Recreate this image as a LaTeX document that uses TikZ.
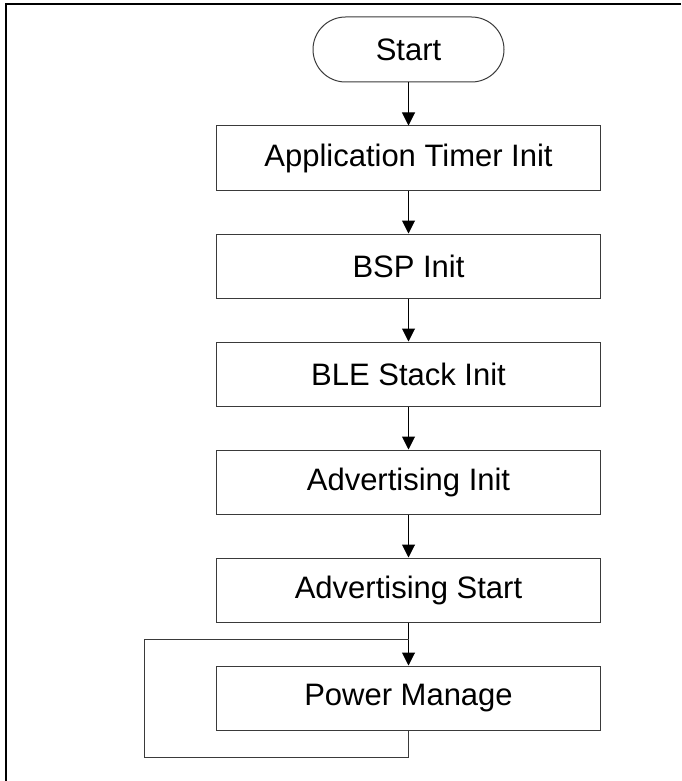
\documentclass[tikz,border=0pt]{standalone}
\usepackage{fontspec}
\setmainfont{Liberation Sans}
\usepackage{tikz}
\usetikzlibrary{arrows.meta,positioning}
\definecolor{boxline}{HTML}{3A3A3A}

\begin{document}
\begin{tikzpicture}[
  x=1pt, y=1pt,
  >={Triangle[length=13pt,width=13pt]},
  node distance=43pt,
  stepbox/.style={
    draw=boxline,
    line width=1pt,
    minimum width=384pt,
    minimum height=64pt,
    inner sep=0pt,
    font=\fontsize{31}{37}\selectfont
  },
  terminal/.style={
    stepbox,
    minimum width=191pt,
    minimum height=65pt,
    rounded corners=32.5pt
  },
  flow/.style={->, line width=1pt, black}
]
  \useasboundingbox (0,0) rectangle (681,-781);

  % Frame (cut at the right and bottom)
  \draw[line width=2pt] (681,-4) -- (6,-4) -- (6,-781);

  % --- Main flow ---
  \node[terminal] (start) at (408.5,-49.5) {Start};
  \node[stepbox, below=of start] (timer) {Application Timer Init};
  \node[stepbox, below=of timer] (bsp) {BSP Init};
  \node[stepbox, below=of bsp] (stack) {BLE Stack Init};
  \node[stepbox, below=of stack] (advinit) {Advertising Init};
  \node[stepbox, below=of advinit] (advstart) {Advertising Start};
  \node[stepbox, below=of advstart] (power) {Power Manage};

  % Loop corners
  \coordinate[below=17pt of advstart.south] (loopin);
  \coordinate[below=27pt of power.south west, xshift=-72pt] (loopcorner);

  % Connecting Arrows
  \draw[flow] (start) -- (timer);
  \draw[flow] (timer) -- (bsp);
  \draw[flow] (bsp) -- (stack);
  \draw[flow] (stack) -- (advinit);
  \draw[flow] (advinit) -- (advstart);
  \draw[flow] (advstart) -- (power);
  \draw[line width=1pt, boxline] (power.south) |- (loopcorner) |- (loopin);

\end{tikzpicture}
\end{document}
